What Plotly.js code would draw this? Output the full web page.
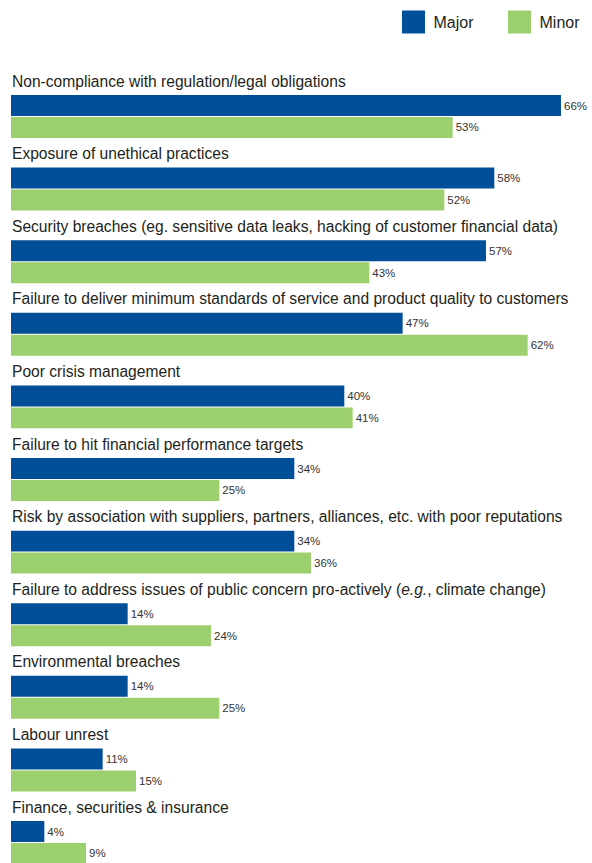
<!DOCTYPE html>
<html>
<head>
<meta charset="utf-8">
<script src="https://cdn.plot.ly/plotly-3.0.1.min.js"></script>
<style>
  html, body { margin: 0; padding: 0; background: #ffffff; }
  #chart { width: 592px; height: 863px; }
</style>
</head>
<body>
<div id="chart"></div>
<script>
// ---- Data ----
const categories = [
  "Non-compliance with regulation/legal obligations",
  "Exposure of unethical practices",
  "Security breaches (eg. sensitive data leaks, hacking of customer financial data)",
  "Failure to deliver minimum standards of service and product quality to customers",
  "Poor crisis management",
  "Failure to hit financial performance targets",
  "Risk by association with suppliers, partners, alliances, etc. with poor reputations",
  "Failure to address issues of public concern pro-actively (<i>e.g.</i>, climate change)",
  "Environmental breaches",
  "Labour unrest",
  "Finance, securities & insurance"
];
const majorValues = [66, 58, 57, 47, 40, 34, 34, 14, 14, 11, 4];
const minorValues = [53, 52, 43, 62, 41, 25, 36, 24, 25, 15, 9];
const seriesNames = ["Major", "Minor"];

// ---- Layout helpers (positions from group index) ----
const FONT = '"Liberation Sans", Arial, sans-serif';
const MAJOR_OFF = 0.3375, MINOR_OFF = 0.640, BAR_W = 0.289;
const idx = categories.map((_, i) => i);

const traces = [
  {
    type: 'bar', orientation: 'h', name: seriesNames[0], legendwidth: 61,
    x: majorValues, y: idx.map(i => i + MAJOR_OFF), width: BAR_W,
    marker: { color: '#004f98', line: { width: 0 } },
    text: majorValues.map(v => v + '%'), textposition: 'outside',
    textfont: { family: FONT, size: 11.5, color: '#333333' },
    constraintext: 'none', cliponaxis: false, hoverinfo: 'skip'
  },
  {
    type: 'bar', orientation: 'h', name: seriesNames[1],
    x: minorValues, y: idx.map(i => i + MINOR_OFF), width: BAR_W,
    marker: { color: '#9ccf6d', line: { width: 0 } },
    text: minorValues.map(v => v + '%'), textposition: 'outside',
    textfont: { family: FONT, size: 11.5, color: '#333333' },
    constraintext: 'none', cliponaxis: false, hoverinfo: 'skip'
  }
];

const annotations = categories.map((c, i) => ({
  xref: 'x', yref: 'y', x: 0, y: i, text: c, showarrow: false,
  xanchor: 'left', yanchor: 'middle', xshift: -1,
  font: { family: FONT, size: 15.6, color: '#231f20' }
}));

const layout = {
  width: 592, height: 863,
  margin: { l: 11, r: 0, t: 0, b: 0, pad: 0 },
  paper_bgcolor: '#ffffff', plot_bgcolor: '#ffffff',
  barmode: 'overlay',
  showlegend: true,
  legend: {
    orientation: 'h', x: (393.5 - 11) / 581, xanchor: 'left', y: 1 - 5 / 863, yanchor: 'top',
    font: { family: FONT, size: 16, color: '#231f20' },
    traceorder: 'normal', bgcolor: 'rgba(0,0,0,0)'
  },
  xaxis: { range: [0, 581 / 8.333], autorange: false, visible: false, fixedrange: true },
  yaxis: { range: [10.771, -1.1157], autorange: false, visible: false, fixedrange: true },
  annotations: annotations,
  hovermode: false
};

Plotly.newPlot('chart', traces, layout, { displayModeBar: false, staticPlot: true }).then(() => {
  document.querySelectorAll('.legend .legendpoints path').forEach(p => {
    p.setAttribute('d', 'M11.5,11.5H-11.5V-11.5H11.5Z');
  });
});
</script>
</body>
</html>
